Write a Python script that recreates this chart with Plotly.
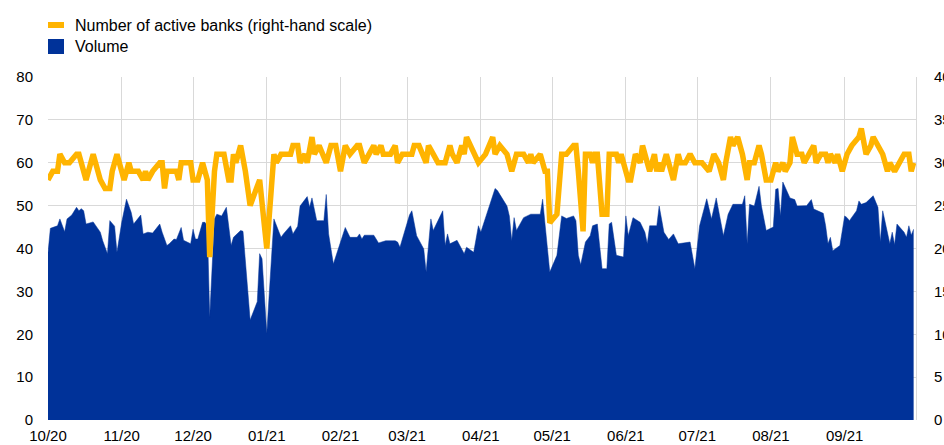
import plotly.graph_objects as go

# ---- data ----
vol_dates = [
    "2020-10-01", "2020-10-02", "2020-10-05", "2020-10-06", "2020-10-08", "2020-10-09", "2020-10-11",
    "2020-10-13", "2020-10-14", "2020-10-15", "2020-10-16", "2020-10-17", "2020-10-20", "2020-10-22",
    "2020-10-23", "2020-10-24", "2020-10-26", "2020-10-27", "2020-10-29", "2020-10-30", "2020-11-01",
    "2020-11-03", "2020-11-05", "2020-11-06", "2020-11-09", "2020-11-10", "2020-11-12", "2020-11-14",
    "2020-11-17", "2020-11-18", "2020-11-20", "2020-11-21", "2020-11-23", "2020-11-24", "2020-11-26",
    "2020-11-27", "2020-11-30", "2020-12-01", "2020-12-02", "2020-12-03", "2020-12-05", "2020-12-06",
    "2020-12-07", "2020-12-08", "2020-12-10", "2020-12-11", "2020-12-13", "2020-12-15", "2020-12-17",
    "2020-12-18", "2020-12-21", "2020-12-22", "2020-12-25", "2020-12-28", "2020-12-29", "2020-12-30",
    "2021-01-01", "2021-01-04", "2021-01-07", "2021-01-08", "2021-01-11", "2021-01-12", "2021-01-14",
    "2021-01-15", "2021-01-18", "2021-01-19", "2021-01-20", "2021-01-22", "2021-01-25", "2021-01-26",
    "2021-01-27", "2021-01-29", "2021-02-03", "2021-02-05", "2021-02-08", "2021-02-09", "2021-02-10",
    "2021-02-11", "2021-02-15", "2021-02-17", "2021-02-20", "2021-02-23", "2021-02-24", "2021-02-25",
    "2021-02-26", "2021-03-02", "2021-03-03", "2021-03-05", "2021-03-08", "2021-03-09", "2021-03-11",
    "2021-03-12", "2021-03-16", "2021-03-17", "2021-03-18", "2021-03-19", "2021-03-22", "2021-03-25",
    "2021-03-26", "2021-03-29", "2021-03-31", "2021-04-01", "2021-04-07", "2021-04-08", "2021-04-12",
    "2021-04-13", "2021-04-14", "2021-04-15", "2021-04-16", "2021-04-19", "2021-04-22", "2021-04-26",
    "2021-04-27", "2021-04-28", "2021-04-30", "2021-05-03", "2021-05-05", "2021-05-07", "2021-05-10",
    "2021-05-11", "2021-05-12", "2021-05-13", "2021-05-15", "2021-05-17", "2021-05-18", "2021-05-20",
    "2021-05-22", "2021-05-24", "2021-05-25", "2021-05-26", "2021-05-28", "2021-05-31", "2021-06-01",
    "2021-06-02", "2021-06-04", "2021-06-07", "2021-06-09", "2021-06-10", "2021-06-11", "2021-06-14",
    "2021-06-15", "2021-06-17", "2021-06-19", "2021-06-21", "2021-06-23", "2021-06-28", "2021-06-30",
    "2021-07-02", "2021-07-05", "2021-07-07", "2021-07-09", "2021-07-12", "2021-07-14", "2021-07-16",
    "2021-07-20", "2021-07-21", "2021-07-22", "2021-07-23", "2021-07-25", "2021-07-27", "2021-07-28",
    "2021-07-30", "2021-08-02", "2021-08-03", "2021-08-04", "2021-08-05", "2021-08-06", "2021-08-09",
    "2021-08-10", "2021-08-11", "2021-08-12", "2021-08-14", "2021-08-16", "2021-08-18", "2021-08-19",
    "2021-08-23", "2021-08-24", "2021-08-25", "2021-08-26", "2021-08-27", "2021-08-30", "2021-09-01",
    "2021-09-02", "2021-09-03", "2021-09-06", "2021-09-07", "2021-09-08", "2021-09-10", "2021-09-13",
    "2021-09-15", "2021-09-16", "2021-09-17", "2021-09-19", "2021-09-20", "2021-09-21", "2021-09-22",
    "2021-09-23", "2021-09-26", "2021-09-27", "2021-09-28", "2021-09-29", "2021-09-30",
]
vol_values = [
    39.0, 44.7, 45.3, 46.9, 43.9, 46.9, 47.8,
    49.6, 48.8, 49.3, 48.8, 45.7, 46.2, 44.5,
    43.8, 41.8, 38.8, 46.5, 45.2, 39.1, 46.1,
    51.5, 48.4, 45.7, 47.8, 43.4, 43.8, 43.6,
    45.7, 43.8, 40.7, 41.1, 42.2, 42.1, 44.9,
    41.9, 41.1, 44.5, 42.2, 42.2, 46.1, 46.1,
    45.3, 24.0, 46.9, 48.0, 47.6, 49.6, 40.7,
    42.6, 44.2, 44.0, 23.3, 27.6, 38.8, 37.6,
    20.2, 46.9, 42.6, 43.4, 45.3, 43.4, 45.2,
    49.9, 52.1, 49.6, 51.8, 46.5, 46.5, 52.6,
    43.4, 36.4, 44.9, 42.6, 42.6, 43.4, 42.2,
    43.1, 43.1, 41.3, 41.8, 41.8, 41.8, 41.5,
    40.3, 47.8, 48.8, 43.0, 39.9, 34.5, 46.9,
    44.2, 48.8, 40.7, 43.4, 41.1, 41.9, 38.8,
    40.3, 39.1, 45.3, 43.8, 54.0, 53.5, 49.9,
    47.6, 41.8, 47.2, 44.2, 47.2, 48.0, 48.0,
    51.5, 45.7, 34.5, 38.4, 47.6, 47.0, 47.6,
    46.5, 38.4, 36.2, 41.5, 43.0, 45.3, 45.7,
    35.3, 35.3, 45.7, 46.1, 38.4, 38.0, 47.6,
    43.0, 47.2, 46.1, 43.8, 41.1, 45.3, 45.3,
    49.9, 43.8, 42.1, 43.4, 41.1, 41.5, 35.3,
    45.3, 51.6, 46.9, 51.8, 43.0, 48.0, 50.3,
    50.3, 52.3, 41.1, 50.3, 49.9, 54.5, 49.9,
    44.2, 45.0, 53.8, 54.0, 47.6, 55.5, 51.8,
    51.6, 51.4, 49.9, 49.9, 50.0, 51.4, 49.2,
    48.2, 45.3, 41.1, 42.6, 39.5, 40.7, 47.6,
    47.2, 46.5, 48.8, 51.1, 50.3, 50.7, 52.3,
    49.6, 41.5, 48.8, 43.8, 41.1, 43.8, 40.9,
    45.7, 43.8, 42.6, 45.3, 43.1, 44.5,
]

bank_dates = [
    "2020-10-01", "2020-10-03", "2020-10-05", "2020-10-06", "2020-10-08", "2020-10-10", "2020-10-13",
    "2020-10-14", "2020-10-15", "2020-10-17", "2020-10-20", "2020-10-22", "2020-10-23", "2020-10-25",
    "2020-10-27", "2020-10-28", "2020-10-30", "2020-11-02", "2020-11-04", "2020-11-05", "2020-11-08",
    "2020-11-10", "2020-11-11", "2020-11-12", "2020-11-14", "2020-11-17", "2020-11-18", "2020-11-19",
    "2020-11-20", "2020-11-24", "2020-11-25", "2020-11-26", "2020-11-30", "2020-12-01", "2020-12-03",
    "2020-12-05", "2020-12-07", "2020-12-08", "2020-12-10", "2020-12-11", "2020-12-14", "2020-12-16",
    "2020-12-17", "2020-12-18", "2020-12-19", "2020-12-21", "2020-12-23", "2020-12-25", "2020-12-29",
    "2021-01-01", "2021-01-04", "2021-01-05", "2021-01-07", "2021-01-11", "2021-01-12", "2021-01-14",
    "2021-01-15", "2021-01-17", "2021-01-18", "2021-01-20", "2021-01-21", "2021-01-23", "2021-01-26",
    "2021-01-28", "2021-01-30", "2021-02-01", "2021-02-03", "2021-02-05", "2021-02-08", "2021-02-09",
    "2021-02-11", "2021-02-13", "2021-02-15", "2021-02-16", "2021-02-18", "2021-02-19", "2021-02-22",
    "2021-02-24", "2021-02-25", "2021-02-27", "2021-03-03", "2021-03-04", "2021-03-06", "2021-03-09",
    "2021-03-10", "2021-03-12", "2021-03-14", "2021-03-17", "2021-03-19", "2021-03-20", "2021-03-22",
    "2021-03-24", "2021-03-25", "2021-03-26", "2021-03-29", "2021-03-31", "2021-04-03", "2021-04-06",
    "2021-04-07", "2021-04-09", "2021-04-12", "2021-04-14", "2021-04-16", "2021-04-19", "2021-04-21",
    "2021-04-22", "2021-04-23", "2021-04-26", "2021-04-28", "2021-04-29", "2021-04-30", "2021-05-03",
    "2021-05-05", "2021-05-07", "2021-05-10", "2021-05-11", "2021-05-12", "2021-05-14", "2021-05-15",
    "2021-05-17", "2021-05-18", "2021-05-19", "2021-05-20", "2021-05-22", "2021-05-24", "2021-05-25",
    "2021-05-28", "2021-05-29", "2021-05-30", "2021-06-02", "2021-06-03", "2021-06-05", "2021-06-07",
    "2021-06-08", "2021-06-10", "2021-06-11", "2021-06-13", "2021-06-14", "2021-06-15", "2021-06-16",
    "2021-06-18", "2021-06-19", "2021-06-21", "2021-06-23", "2021-06-24", "2021-06-26", "2021-06-28",
    "2021-06-30", "2021-07-03", "2021-07-06", "2021-07-08", "2021-07-10", "2021-07-12", "2021-07-13",
    "2021-07-15", "2021-07-16", "2021-07-18", "2021-07-20", "2021-07-22", "2021-07-23", "2021-07-25",
    "2021-07-27", "2021-07-28", "2021-07-30", "2021-08-01", "2021-08-02", "2021-08-03", "2021-08-04",
    "2021-08-06", "2021-08-07", "2021-08-09", "2021-08-10", "2021-08-12", "2021-08-14", "2021-08-15",
    "2021-08-17", "2021-08-19", "2021-08-20", "2021-08-22", "2021-08-24", "2021-08-25", "2021-08-26",
    "2021-08-28", "2021-08-29", "2021-08-31", "2021-09-02", "2021-09-04", "2021-09-07", "2021-09-08",
    "2021-09-10", "2021-09-12", "2021-09-13", "2021-09-15", "2021-09-17", "2021-09-19", "2021-09-20",
    "2021-09-22", "2021-09-24", "2021-09-26", "2021-09-28", "2021-09-29", "2021-09-30",
]
bank_values = [
    28, 29, 29, 31, 30, 30, 31,
    31, 30, 28, 31, 29, 28, 27,
    27, 29, 31, 28, 30, 29, 29,
    28, 29, 28, 29, 30, 30, 27,
    29, 29, 28, 30, 30, 28, 28,
    30, 28, 19, 29, 31, 31, 28,
    28, 31, 30, 32, 29, 25, 28,
    20, 31, 30, 31, 31, 32, 32,
    30, 31, 30, 33, 31, 32, 30,
    32, 32, 29, 32, 31, 32, 32,
    30, 31, 32, 31, 32, 31, 31,
    32, 30, 31, 31, 32, 32, 30,
    32, 31, 30, 30, 32, 31, 30,
    32, 31, 33, 31, 30, 31, 33,
    31, 32, 31, 29, 31, 31, 30,
    31, 30, 31, 29, 29, 23, 24,
    31, 31, 32, 32, 29, 22, 31,
    31, 30, 31, 31, 24, 24, 31,
    31, 30, 31, 28, 28, 31, 30,
    32, 30, 29, 31, 29, 30, 29,
    31, 30, 28, 31, 30, 30, 31,
    30, 30, 29, 31, 30, 28, 30,
    33, 32, 33, 31, 28, 30, 30,
    32, 31, 28, 28, 29, 30, 29,
    30, 29, 30, 33, 31, 31, 30,
    31, 32, 30, 31, 31, 30, 31,
    30, 31, 29, 31, 32, 33, 34,
    31, 32, 33, 32, 31, 29, 30,
    29, 30, 31, 31, 29, 30,
]

tick_dates = ["2020-10-01", "2020-11-01", "2020-12-01", "2021-01-01", "2021-02-01", "2021-03-01",
              "2021-04-01", "2021-05-01", "2021-06-01", "2021-07-01", "2021-08-01", "2021-09-01"]
tick_labels = ["10/20", "11/20", "12/20", "01/21", "02/21", "03/21",
               "04/21", "05/21", "06/21", "07/21", "08/21", "09/21"]

series_names = ["Volume", "Number of active banks (right-hand scale)"]
BLUE = "#003299"
YELLOW = "#FFB400"
GRID = "#d9d9d9"
FONT = "Liberation Sans, Arial, sans-serif"
TXT = "#000000"

fig = go.Figure()
fig.add_trace(go.Scatter(
    x=vol_dates, y=vol_values, name=series_names[0], mode="lines",
    fill="tozeroy", fillcolor=BLUE, line=dict(color=BLUE, width=0.5),
    showlegend=False, yaxis="y",
))
fig.add_trace(go.Scatter(
    x=bank_dates, y=bank_values, name=series_names[1], mode="lines",
    line=dict(color=YELLOW, width=5.5), showlegend=False, yaxis="y2",
))

W, H = 944, 445
ml, mr, mt, mb = 48, 28, 77, 25
pw, ph = W - ml - mr, H - mt - mb

def px(X):
    return (X - ml) / pw

def py(Y):
    return (H - mb - Y) / ph

# manual legend (top-left, above the plot)
shapes = [
    dict(type="rect", xref="paper", yref="paper", x0=px(48), x1=px(64), y0=py(28), y1=py(22),
         fillcolor=YELLOW, line=dict(width=0)),
    dict(type="rect", xref="paper", yref="paper", x0=px(48), x1=px(64), y0=py(54), y1=py(39),
         fillcolor=BLUE, line=dict(width=0)),
]
annotations = [
    dict(xref="paper", yref="paper", x=px(73), y=py(25.5), text=series_names[1], showarrow=False,
         xanchor="left", yanchor="middle", font=dict(family=FONT, size=16, color=TXT)),
    dict(xref="paper", yref="paper", x=px(73), y=py(46.5), text=series_names[0], showarrow=False,
         xanchor="left", yanchor="middle", font=dict(family=FONT, size=16, color=TXT)),
]

fig.update_layout(
    width=W, height=H,
    margin=dict(l=ml, r=mr, t=mt, b=mb, pad=0, autoexpand=False),
    paper_bgcolor="white", plot_bgcolor="white",
    font=dict(family=FONT, size=15, color=TXT),
    shapes=shapes, annotations=annotations,
    xaxis=dict(
        type="date", range=["2020-10-01", "2021-10-01"],
        tickvals=tick_dates, ticktext=tick_labels,
        showgrid=True, gridcolor=GRID, gridwidth=1,
        zeroline=False, showline=False, ticks="", automargin=False,
        ticklabelstandoff=5,
        tickfont=dict(family=FONT, size=15, color=TXT),
    ),
    yaxis=dict(
        range=[0, 80], dtick=10, tick0=0,
        showgrid=True, gridcolor=GRID, gridwidth=1,
        zeroline=False, showline=False, ticks="", automargin=False,
        ticklabelstandoff=14,
        tickfont=dict(family=FONT, size=15, color=TXT),
    ),
    yaxis2=dict(
        range=[0, 40], dtick=5, tick0=0, overlaying="y", side="right",
        showgrid=False, zeroline=False, showline=True, linecolor=GRID, linewidth=1,
        ticks="", ticklabelstandoff=14, automargin=False,
        tickfont=dict(family=FONT, size=15, color=TXT),
    ),
)

fig.write_html(
    "out.html",
    config={"displayModeBar": False},
    post_script="document.body.style.margin='0';document.body.style.overflow='hidden';",
)
